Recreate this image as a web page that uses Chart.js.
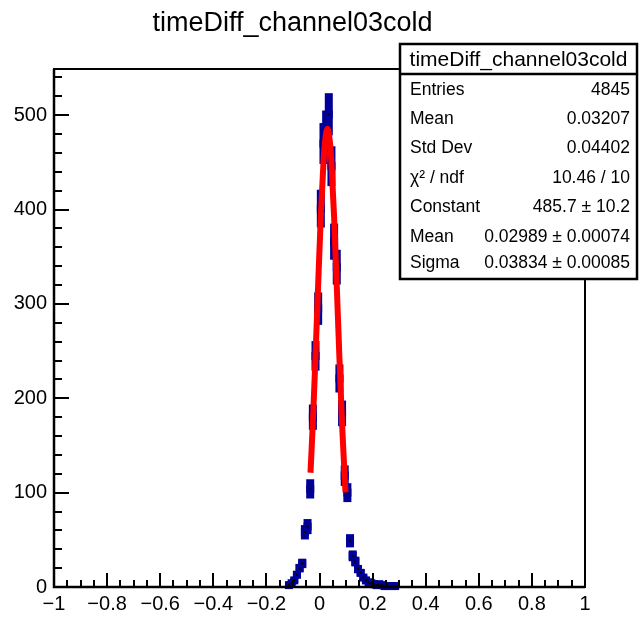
<!DOCTYPE html>
<html>
<head>
<meta charset="utf-8">
<script src="https://cdn.jsdelivr.net/npm/chart.js@4.4.1/dist/chart.umd.min.js"></script>
<style>
    html, body { margin: 0; padding: 0; background: #fff; }
    #wrap { width: 641px; height: 620px; }
</style>
</head>
<body>
<div id="wrap"><canvas id="histChart" width="641" height="620"></canvas></div>
<script>
// Histogram bins (width 0.01) and counts
const binCenters = [-0.115, -0.105, -0.095, -0.085, -0.075, -0.065, -0.055, -0.045, -0.035, -0.025,
    -0.015, -0.005, 0.005, 0.015, 0.025, 0.035, 0.045, 0.055, 0.065, 0.075,
    0.085, 0.095, 0.105, 0.115, 0.125, 0.135, 0.145, 0.155, 0.165, 0.175,
    0.185, 0.195, 0.205, 0.215, 0.225, 0.235, 0.245, 0.255, 0.265, 0.275, 0.285];
const counts = [2, 4, 7, 13, 20, 25, 58, 64, 104, 180,
    245, 295, 401, 470, 483, 501, 446, 366, 339, 221,
    184, 118, 100, 49, 33, 27, 19, 15, 10, 7,
    5, 4, 3, 2, 3, 2, 1, 1, 0, 1, 1];

// Gaussian fit curve, sampled off the red line
const fitX = [-0.034, -0.025, -0.015, -0.005, 0.005, 0.015, 0.020, 0.030, 0.040, 0.045, 0.055, 0.065, 0.075, 0.085, 0.095, 0.098];
const fitY = [121.1, 174.3, 244.6, 321.0, 393.3, 450.4, 469.8, 485.7, 469.1, 449.5, 392.0, 319.4, 243.1, 173.0, 114.9, 100.3];

const xTickValues = [-1, -0.8, -0.6, -0.4, -0.2, 0, 0.2, 0.4, 0.6, 0.8, 1];
const yTickValues = [0, 100, 200, 300, 400, 500];

const histTitle = 'timeDiff_channel03cold';
const statsLabels = ['Entries', 'Mean', 'Std Dev', 'χ² / ndf', 'Constant', 'Mean', 'Sigma'];
const statsValues = ['4845', '0.03207', '0.04402', '10.46 / 10', '485.7 ± 10.2', '0.02989 ± 0.00074', '0.03834 ± 0.00085'];

const FONT = '"Liberation Sans", Arial, Helvetica, sans-serif';
const BLUE = '#000099';

const points = [];
binCenters.forEach((x, i) => {
    if (counts[i] > 0) points.push({ x: x, y: counts[i] });
});
const fitPoints = fitX.map((x, i) => ({ x: x, y: fitY[i] }));

// error bars: filled boxes from n - sqrt(n) to n + sqrt(n)
const errorBars = {
    id: 'errorBars',
    beforeDatasetsDraw(chart) {
        const ctx = chart.ctx;
        const xs = chart.scales.x, ys = chart.scales.y;
        ctx.save();
        ctx.fillStyle = BLUE;
        binCenters.forEach((x, i) => {
            const n = counts[i];
            if (n <= 0) return;
            const e = Math.sqrt(n);
            const px = xs.getPixelForValue(x);
            const top = ys.getPixelForValue(n + e);
            const bot = ys.getPixelForValue(n - e);
            ctx.fillRect(px - 4, top, 8, bot - top);
        });
        ctx.restore();
    }
};

// frame and inward ticks, ROOT style
const frame = {
    id: 'frame',
    afterDatasetsDraw(chart) {
        const ctx = chart.ctx;
        const a = chart.chartArea;
        const xs = chart.scales.x, ys = chart.scales.y;
        ctx.save();
        ctx.strokeStyle = '#000';
        ctx.lineWidth = 2;
        ctx.beginPath();
        // x ticks: major 0.2, minor 0.05
        for (let k = 0; k <= 40; k++) {
            const v = -1 + k * 0.05;
            const px = Math.round(xs.getPixelForValue(v));
            const len = (k % 4 === 0) ? 14 : 7;
            ctx.moveTo(px, a.bottom);
            ctx.lineTo(px, a.bottom - len);
        }
        // y ticks: major 100, minor 20
        for (let k = 0; k * 20 <= ys.max; k++) {
            const v = k * 20;
            const py = Math.round(ys.getPixelForValue(v));
            const len = (k % 5 === 0) ? 15 : 8;
            ctx.moveTo(a.left, py);
            ctx.lineTo(a.left + len, py);
        }
        ctx.stroke();
        ctx.lineWidth = 2;
        ctx.strokeRect(a.left, a.top, a.right - a.left, a.bottom - a.top);
        ctx.lineWidth = 2.5;
        ctx.beginPath();
        ctx.moveTo(a.left, a.top);
        ctx.lineTo(a.left, a.bottom);
        ctx.lineTo(a.right, a.bottom);
        ctx.stroke();
        ctx.restore();
    },
    afterDraw(chart) {
        const ctx = chart.ctx;
        const L = 400, T = 44, R = 637, B = 279;
        ctx.save();
        ctx.fillStyle = '#fff';
        ctx.fillRect(L, T, R - L, B - T);
        ctx.strokeStyle = '#000';
        ctx.lineWidth = 2.5;
        ctx.strokeRect(L, T, R - L, B - T);
        ctx.beginPath();
        ctx.moveTo(L, 74);
        ctx.lineTo(R, 74);
        ctx.stroke();
        ctx.fillStyle = '#000';
        ctx.textBaseline = 'middle';
        ctx.font = '21px ' + FONT;
        ctx.textAlign = 'center';
        ctx.fillText(histTitle, (L + R) / 2, 60);
        const rowY = [90, 119, 148, 178, 207, 237, 263];
        ctx.font = '17.5px ' + FONT;
        statsLabels.forEach((lab, i) => {
            ctx.textAlign = 'left';
            ctx.fillText(lab, 410, rowY[i]);
            ctx.textAlign = 'right';
            ctx.fillText(statsValues[i], 630, rowY[i]);
        });
        ctx.restore();
    }
};

function fmtX(v) {
    if (Math.abs(v) < 1e-9) return '0';
    return String(+v.toFixed(1)).replace('-', '\u2212');
}

new Chart(document.getElementById('histChart').getContext('2d'), {
    type: 'scatter',
    data: {
        datasets: [{
            label: 'fit',
            type: 'line',
            data: fitPoints,
            borderColor: '#ff0000',
            borderWidth: 6,
            pointRadius: 0,
            fill: false,
            cubicInterpolationMode: 'monotone',
            order: 0
        }, {
            label: 'centres',
            data: points,
            pointStyle: 'rect',
            pointRadius: 1.5,
            backgroundColor: '#000',
            borderWidth: 0,
            clip: false,
            order: 1
        }, {
            label: 'markers',
            data: points,
            pointStyle: 'rect',
            pointRadius: 5.66,
            backgroundColor: BLUE,
            borderWidth: 0,
            clip: false,
            order: 2
        }]
    },
    options: {
        responsive: false,
        animation: false,
        events: [],
        layout: { padding: { left: 0, right: 56, top: 0, bottom: 0 } },
        plugins: {
            legend: { display: false },
            tooltip: { enabled: false },
            title: {
                display: true,
                text: histTitle,
                color: '#000',
                font: { family: FONT, size: 27, weight: 'normal', lineHeight: 1.2 },
                padding: { top: 7, bottom: 29.6 }
            }
        },
        scales: {
            x: {
                type: 'linear',
                min: -1,
                max: 1,
                grid: { display: false, drawTicks: false },
                border: { display: false },
                afterBuildTicks: s => { s.ticks = xTickValues.map(v => ({ value: v })); },
                afterFit: s => { s.height = 33; },
                ticks: {
                    color: '#000',
                    padding: 5,
                    maxRotation: 0,
                    autoSkip: false,
                    font: { family: FONT, size: 20 },
                    callback: v => fmtX(v)
                }
            },
            y: {
                type: 'linear',
                min: 0,
                max: 549,
                grid: { display: false, drawTicks: false },
                border: { display: false },
                afterBuildTicks: s => { s.ticks = yTickValues.map(v => ({ value: v })); },
                afterFit: s => { s.width = 54; },
                ticks: {
                    color: '#000',
                    padding: 7,
                    autoSkip: false,
                    font: { family: FONT, size: 20 },
                    callback: v => String(v)
                }
            }
        }
    },
    plugins: [errorBars, frame]
});
</script>
</body>
</html>
